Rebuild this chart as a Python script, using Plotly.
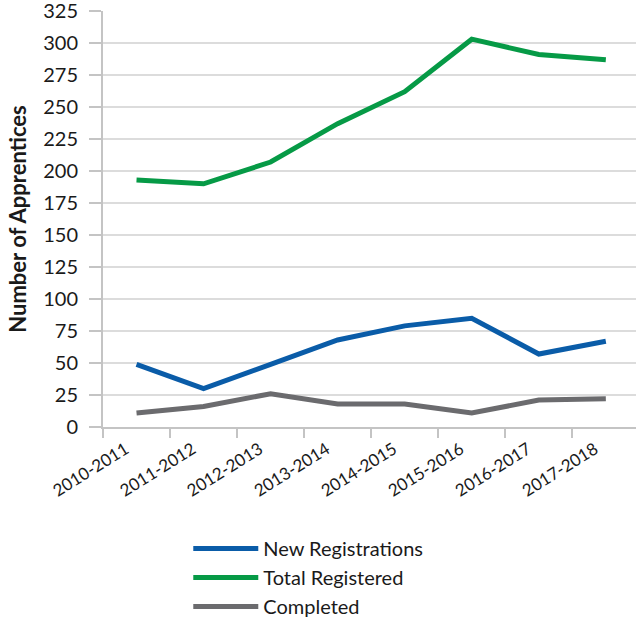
import plotly.graph_objs as go

years = ['2010-2011', '2011-2012', '2012-2013', '2013-2014',
         '2014-2015', '2015-2016', '2016-2017', '2017-2018']
new_registrations = [49, 30, 49, 68, 79, 85, 57, 67]
total_registered = [193, 190, 207, 237, 262, 303, 291, 287]
completed = [11, 16, 26, 18, 18, 11, 21, 22]

series = [
    ('New Registrations', new_registrations, '#0a5ca8'),
    ('Total Registered', total_registered, '#069a46'),
    ('Completed', completed, '#6b6b6e'),
]

fig = go.Figure()

for name, values, color in series:
    fig.add_trace(go.Scatter(
        x=years,
        y=values,
        mode='lines',
        name=name,
        legendgroup=name,  # separate groups so tracegroupgap spaces the rows
        line=dict(color=color, width=5),
    ))

fig.update_layout(
    width=636,
    height=626,
    margin=dict(l=103, r=0, t=11, b=199),
    paper_bgcolor='white',
    plot_bgcolor='white',
    font=dict(family='Lato, sans-serif', size=19, color='#1a1a1a'),
    showlegend=True,
    legend=dict(
        orientation='v',
        x=0.16,
        xanchor='left',
        y=-0.245,
        yanchor='top',
        font=dict(size=20),
        tracegroupgap=0,
        itemwidth=65,
    ),
)

fig.update_xaxes(
    type='category',
    range=[-0.5, 7.45],
    tickangle=-32,
    automargin=False,
    showgrid=False,
    showline=True,
    linecolor='#c4c4c4',
    linewidth=2,
    ticks='outside',
    tickson='boundaries',
    ticklen=9,
    tickwidth=2,
    tickcolor='#c4c4c4',
    ticklabelshift=-11,
    ticklabelstandoff=4,
    tickfont=dict(size=17),
)

fig.update_yaxes(
    range=[0, 325],
    dtick=25,
    automargin=False,
    ticklabeloverflow='allow',
    showgrid=True,
    gridcolor='#dcdcdc',
    gridwidth=1.5,
    zeroline=False,
    showline=True,
    linecolor='#c4c4c4',
    linewidth=2,
    ticks='outside',
    ticklen=12,
    tickwidth=2,
    tickcolor='#c4c4c4',
    ticklabelstandoff=7,
    tickfont=dict(size=20),
    title=dict(text='<b>Number of Apprentices</b>', font=dict(size=22), standoff=10),
)

# page body has a default 8px margin; drop it so the figure fills the window
fig.write_html("out.html", config={'displayModeBar': False},
               post_script="document.body.style.margin='0';")
